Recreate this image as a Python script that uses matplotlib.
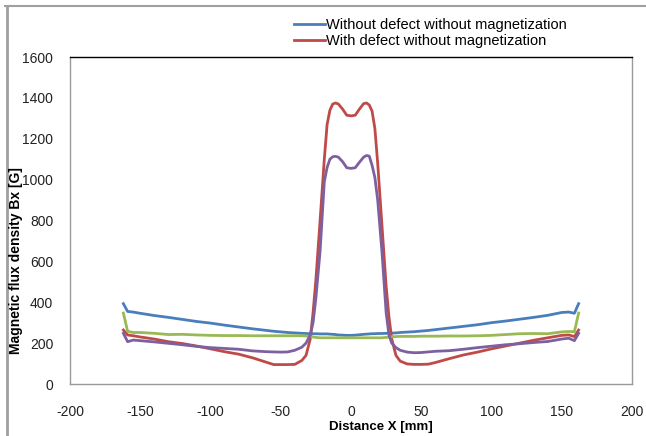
import matplotlib
matplotlib.use("Agg")
import matplotlib.pyplot as plt
from matplotlib.lines import Line2D
import numpy as np

# distance X [mm]
x_mm = [-162, -159, -155, -150, -140, -130, -120, -110, -100, -90, -80, -70, -60, -55,
        -50, -45, -40, -35, -32, -29, -27, -25, -22, -19, -17, -15, -13, -11, -9, -6,
        -3, 0, 3, 6, 9, 11, 13, 15, 17, 19, 22, 25, 27, 29, 32, 35, 40, 45, 50, 55, 60,
        70, 80, 90, 100, 110, 120, 130, 140, 150, 155, 159, 162]

# without defect without magnetization (blue)
bx_blue = [393, 355, 352, 346, 335, 326, 316, 306, 298, 288, 279, 270, 262, 258,
           255, 252, 250, 248, 247, 246, 246, 246, 245, 245, 245, 244, 243, 242, 240, 239,
           238, 238, 239, 241, 243, 244, 245, 246, 246, 247, 247, 248, 248, 249, 250, 252,
           254, 256, 259, 262, 266, 274, 282, 290, 300, 308, 317, 326, 336, 350, 352, 346, 393]

# with defect without magnetization (red)
bx_red = [264, 240, 236, 230, 220, 207, 198, 186, 172, 158, 146, 128, 106, 95,
          95, 95, 96, 115, 140, 220, 350, 510, 800, 1100, 1270, 1340, 1370, 1375, 1370, 1345,
          1315, 1312, 1315, 1345, 1372, 1375, 1365, 1335, 1250, 1080, 780, 480, 330, 220, 140, 112,
          98, 96, 96, 97, 105, 124, 142, 156, 172, 186, 200, 214, 226, 238, 240, 232, 264]

# green series
bx_green = [347, 258, 252, 252, 248, 242, 243, 240, 238, 237, 237, 236, 236, 236,
            236, 236, 236, 236, 235, 233, 230, 228, 226, 226, 226, 226, 226, 226, 226, 226,
            226, 226, 226, 226, 226, 226, 226, 226, 226, 226, 226, 228, 229, 231, 232, 233,
            233, 233, 234, 234, 234, 235, 235, 236, 238, 242, 246, 247, 246, 255, 257, 256, 347]

# purple series
bx_purple = [248, 207, 215, 212, 206, 199, 192, 184, 178, 174, 170, 162, 158, 157,
             156, 157, 165, 180, 200, 240, 300, 420, 650, 990, 1060, 1100, 1112, 1114, 1110, 1088,
             1058, 1055, 1058, 1085, 1110, 1118, 1115, 1070, 1010, 900, 650, 350, 240, 200, 178, 165,
             156, 153, 154, 157, 160, 163, 170, 178, 185, 192, 197, 203, 208, 220, 224, 212, 248]

series_labels = ["Without defect without magnetization", "With defect without magnetization"]
xticks = [-200, -150, -100, -50, 0, 50, 100, 150, 200]
yticks = [0, 200, 400, 600, 800, 1000, 1200, 1400, 1600]

plt.rcParams['font.family'] = ['Liberation Sans', 'DejaVu Sans']
plt.rcParams['axes.unicode_minus'] = False

fig = plt.figure(figsize=(6.46, 4.36), dpi=100)
ax = fig.add_axes([70 / 646, 1 - 384 / 436, 562 / 646, 327 / 436])

lw = 2.0
l1, = ax.plot(x_mm, bx_blue, color='#4A7EBB', lw=lw)
l2, = ax.plot(x_mm, bx_red, color='#BE4B48', lw=lw)
ax.plot(x_mm, bx_green, color='#98B954', lw=lw)
ax.plot(x_mm, bx_purple, color='#7D60A0', lw=lw)

ax.set_xlim(-200, 200)
ax.set_ylim(0, 1600)
ax.set_xticks(xticks)
ax.set_yticks(yticks)
ax.tick_params(length=0, labelsize=10, colors='#222222')
ax.tick_params(axis='y', pad=12)
ax.tick_params(axis='x', pad=15)

for s in ['left', 'bottom', 'right']:
    ax.spines[s].set_color('#9a9a9a')
    ax.spines[s].set_linewidth(1.0)
ax.spines['top'].set_color('black')
ax.spines['top'].set_linewidth(1.0)

fig.text(381 / 646, 1 - 427 / 436, "Distance X [mm]", ha='center', va='center',
         fontsize=9.5, fontweight='bold')
# y label kept just left of the tick labels
fig.text(16 / 646, 1 - 261 / 436, "Magnetic flux density Bx [G]", ha='center', va='center',
         rotation=90, fontsize=10, fontweight='bold')

fig.legend([l1, l2], series_labels, loc='upper left',
           bbox_to_anchor=(294 / 646, 1 - 18 / 436), frameon=False,
           handlelength=2.1, handletextpad=0.1, labelspacing=0.15,
           borderpad=0, borderaxespad=0, fontsize=10.5)

# outer chart frame
fig.add_artist(Line2D([5 / 646, 1], [1 - 6 / 436, 1 - 6 / 436], color='#a0a0a0', lw=1.5,
                      transform=fig.transFigure))
fig.add_artist(Line2D([6.5 / 646, 6.5 / 646], [0, 1 - 6 / 436], color='#a0a0a0', lw=2,
                      transform=fig.transFigure))

fig.savefig("out.png", dpi=100)
